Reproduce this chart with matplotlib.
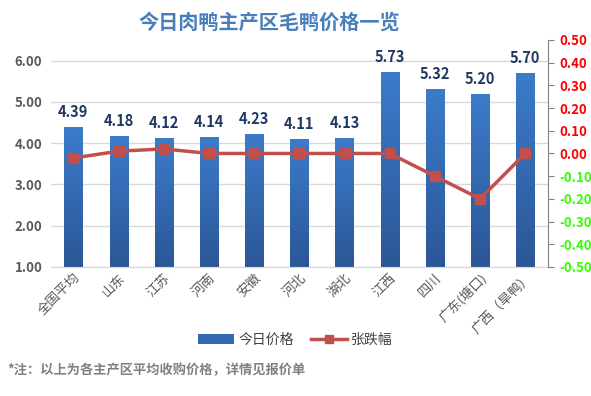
import numpy as np
import matplotlib
matplotlib.use('Agg')
import matplotlib.pyplot as plt
from matplotlib.colors import LinearSegmentedColormap
from matplotlib.patches import Patch
from matplotlib.lines import Line2D

plt.rcParams['font.family'] = ['Noto Sans CJK SC', 'DejaVu Sans']

# data
regions = ['全国平均', '山东', '江苏', '河南', '安徽', '河北', '湖北', '江西', '四川', '广东(塘口)', '广西（旱鸭）']
prices = [4.39, 4.18, 4.12, 4.14, 4.23, 4.11, 4.13, 5.73, 5.32, 5.20, 5.70]
changes = [-0.02, 0.01, 0.02, 0.00, 0.00, 0.00, 0.00, 0.00, -0.10, -0.20, 0.00]
left_ticks = [1.0, 2.0, 3.0, 4.0, 5.0, 6.0]
right_ticks = [0.5, 0.4, 0.3, 0.2, 0.1, 0.0, -0.1, -0.2, -0.3, -0.4, -0.5]

fig = plt.figure(figsize=(5.91, 3.96), dpi=100)
ax = fig.add_axes([0.086, 0.326, 0.841, 0.573])
x = np.arange(len(regions))

# bars with a vertical blue gradient
bars = ax.bar(x, prices, width=0.4, bottom=0, color='none', zorder=2)
grad_cmap = LinearSegmentedColormap.from_list('bl', ['#2b5796', '#3c7bcb'])
grad = np.linspace(0, 1, 100).reshape(-1, 1)
for b in bars:
    bx, bw, bh = b.get_x(), b.get_width(), b.get_height()
    im = ax.imshow(grad, extent=[bx, bx + bw, 1.0, bh], origin='lower',
                   aspect='auto', cmap=grad_cmap, zorder=2)
    im.set_clip_path(b)

for xi, p in zip(x, prices):
    ax.text(xi, p + 0.17, f'{p:.2f}', ha='center', va='bottom', fontsize=10.5,
            fontweight='bold', color='#1f3864', zorder=4)

ax.set_xlim(-0.5, len(regions) - 0.5)
ax.set_ylim(1.0, 6.5)
ax.set_yticks(left_ticks)
ax.set_yticklabels([f'{t:.2f}' for t in left_ticks], fontsize=9.5,
                   fontweight='bold', color='#595959')
ax.yaxis.grid(True, color='#d9d9d9', linewidth=1)
ax.set_axisbelow(True)
ax.tick_params(axis='y', length=0, pad=6)
ax.tick_params(axis='x', length=0, pad=3)
ax.set_xticks(x)
ax.set_xticklabels(regions, rotation=45, ha='right', rotation_mode='anchor',
                   fontsize=9.5, color='#595959')
for s in ['top', 'left', 'right']:
    ax.spines[s].set_visible(False)
ax.spines['bottom'].set_color('#d9d9d9')

# change line on right axis
ax2 = ax.twinx()
ax2.plot(x, changes, color='#c0504d', linewidth=2.5, marker='s',
         markersize=7, zorder=5)
ax2.set_ylim(-0.5, 0.5)
ax2.set_yticks(right_ticks)
ax2.set_yticklabels([f'{t:.2f}' for t in right_ticks], fontsize=9.5, fontweight='bold')
for t, lab in zip(right_ticks, ax2.get_yticklabels()):
    lab.set_color('#ff0000' if t >= 0 else '#33ff00')
ax2.tick_params(axis='y', length=4, color='#808080', pad=4)
for s in ['top', 'left', 'bottom']:
    ax2.spines[s].set_visible(False)
ax2.spines['right'].set_color('#808080')

fig.text(0.455, 0.945, '今日肉鸭主产区毛鸭价格一览', ha='center', va='center',
         fontsize=14.5, fontweight='bold', color='#4a7ebb')

handles = [Patch(facecolor='#3169b3', edgecolor='none'),
           Line2D([0], [0], color='#c0504d', linewidth=2.5, marker='s', markersize=6)]
fig.legend(handles, ['今日价格', '张跌幅'], loc='center', bbox_to_anchor=(0.5, 0.141),
           ncol=2, frameon=False, fontsize=10, handlelength=2.6,
           columnspacing=1.2, handletextpad=0.3, labelcolor='#404040')

fig.text(0.012, 0.065, '*注：以上为各主产区平均收购价格，详情见报价单', ha='left', va='center',
         fontsize=9.5, fontweight='bold', color='#808080')

fig.savefig('out.png', dpi=100)
